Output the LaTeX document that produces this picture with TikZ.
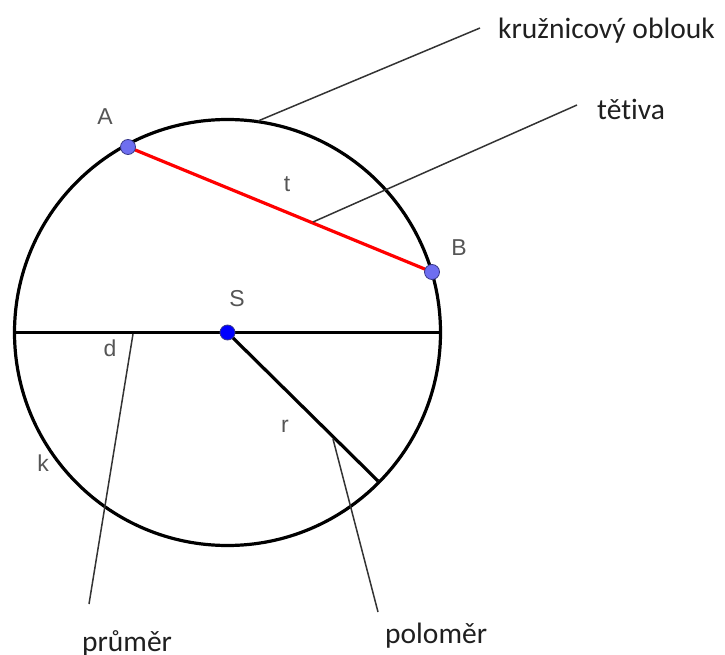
\documentclass[tikz,border=0pt]{standalone}
\usepackage{fontspec}
\setmainfont[Ligatures=NoCommon]{Carlito}
\newfontfamily\lblfont{Liberation Sans}
\definecolor{ptfill}{HTML}{6E6EF0}
\definecolor{ptdraw}{HTML}{3A3A8A}
\definecolor{sfill}{HTML}{0000FF}
\definecolor{lblgray}{HTML}{555555}
\definecolor{leadgray}{HTML}{333333}
\begin{document}
\begin{tikzpicture}[x=1pt,y=-1pt,
  geo/.style={line width=3.2pt,black},
  chord/.style={line width=3.2pt,red},
  leader/.style={line width=1.5pt,leadgray},
  pt/.style={circle,fill=ptfill,draw=ptdraw,line width=0.8pt,minimum size=15pt,inner sep=0pt},
  spt/.style={circle,fill=sfill,draw=ptdraw,line width=0.8pt,minimum size=15pt,inner sep=0pt},
  lbl/.style={font=\lblfont\fontsize{23}{27}\selectfont,text=lblgray,inner sep=0pt},
  callout/.style={font=\fontsize{29.5}{35}\selectfont,text=black!88,inner sep=0pt,anchor=base west}]
\useasboundingbox (0,0) rectangle (725,655);
\coordinate (S0) at (227.5,332.5);
\draw[geo] (S0) circle (213);
\coordinate (DL) at (14.5,332.5);
\coordinate (DR) at (440.5,332.5);
\coordinate (RE) at (378,481);
\draw[geo] (DL) -- (DR);
\draw[geo] (S0) -- (RE);
\coordinate (Ac) at (128,147);
\coordinate (Bc) at (432,272);
\draw[chord] (Ac) -- (Bc);
% leaders
\coordinate (L1a) at (258,121);
\coordinate (L1b) at (480,28);
\coordinate (L2a) at (313,222);
\coordinate (L2b) at (577,105);
\coordinate (L3a) at (133,334);
\coordinate (L3b) at (89,604);
\coordinate (L4a) at (333,439);
\coordinate (L4b) at (378,612);
\draw[leader] (L1a) -- (L1b);
\draw[leader] (L2a) -- (L2b);
\draw[leader] (L3a) -- (L3b);
\draw[leader] (L4a) -- (L4b);
% points
\node[pt] (A) at (Ac) {};
\node[pt] (B) at (Bc) {};
\node[spt] (S) at (S0) {};
% labels
\node[lbl] (lA) at (105,117) {A};
\node[lbl] (lB) at (459,248) {B};
\node[lbl] (lS) at (237,299) {S};
\node[lbl] (lt) at (287,184) {t};
\node[lbl] (ld) at (110,348) {d};
\node[lbl] (lr) at (285,426) {r};
\node[lbl] (lk) at (43,463) {k};
% callouts
\node[callout] (c1) at (498,39) {kružnicový oblouk};
\node[callout] (c2) at (597,120) {tětiva};
\node[callout] (c3) at (82,651) {průměr};
\node[callout] (c4) at (385,643) {poloměr};
\end{tikzpicture}
\end{document}
